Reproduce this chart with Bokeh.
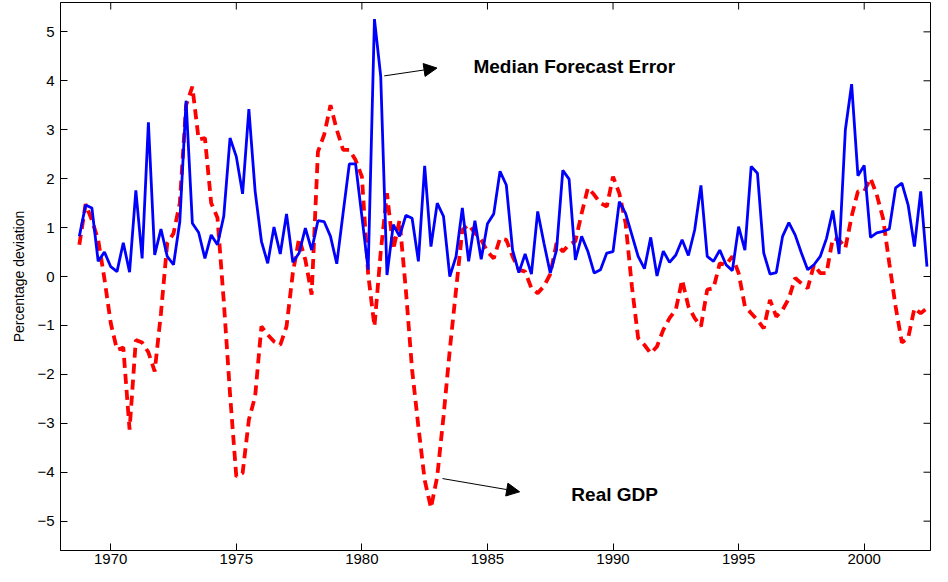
from bokeh.plotting import figure
from bokeh.models import FixedTicker, Range1d, Label, Arrow, NormalHead
from bokeh.embed import file_html
from bokeh.resources import INLINE

# Quarterly observations, 1968Q4 .. 2002Q3
first_quarter = 1968.75
quarter = 0.25

forecast_error = [
    0.82, 1.46, 1.40, 0.31, 0.50, 0.20, 0.10, 0.69, 0.09, 1.76,
    0.37, 3.15, 0.44, 0.97, 0.41, 0.24, 1.12, 3.59, 1.09, 0.90,
    0.37, 0.85, 0.65, 1.23, 2.83, 2.45, 1.69, 3.42, 1.74, 0.72,
    0.27, 1.01, 0.46, 1.28, 0.29, 0.48, 0.99, 0.54, 1.14, 1.12,
    0.82, 0.26, 1.29, 2.30, 2.30, 1.23, 0.14, 5.26, 4.09, 0.03,
    1.06, 0.82, 1.25, 1.19, 0.31, 2.26, 0.61, 1.50, 1.23, 0.00,
    0.41, 1.40, 0.31, 1.14, 0.35, 1.08, 1.28, 2.15, 1.87, 0.54,
    0.08, 0.46, 0.05, 1.33, 0.68, 0.07, 0.54, 2.17, 1.99, 0.34,
    0.82, 0.51, 0.07, 0.14, 0.48, 0.51, 1.53, 1.29, 0.85, 0.41,
    0.16, 0.80, 0.01, 0.52, 0.29, 0.44, 0.75, 0.43, 0.95, 1.86,
    0.41, 0.31, 0.54, 0.24, 0.12, 1.02, 0.54, 2.25, 2.11, 0.48,
    0.05, 0.08, 0.82, 1.10, 0.85, 0.48, 0.14, 0.24, 0.41, 0.78,
    1.35, 0.46, 3.00, 3.93, 2.06, 2.27, 0.80, 0.89, 0.92, 0.97,
    1.81, 1.91, 1.46, 0.61, 1.74, 0.20,
]

real_gdp = [
    0.65, 1.48, 1.15, 0.75, -0.05, -0.95, -1.50, -1.45, -3.13, -1.30,
    -1.35, -1.55, -1.94, -0.75, 0.68, 0.88, 1.50, 3.50, 3.88, 2.80,
    2.83, 1.50, 1.20, -0.50, -2.40, -4.09, -4.02, -2.93, -2.45, -1.02,
    -1.19, -1.33, -1.40, -1.02, 0.07, 0.78, 0.34, -0.37, 2.55, 2.90,
    3.50, 3.00, 2.59, 2.59, 2.38, 2.04, 0.05, -1.02, 0.50, 1.70,
    0.55, 1.15, -0.27, -1.91, -3.07, -4.16, -4.73, -4.09, -2.86, -1.50,
    -0.27, 0.95, 1.06, 0.89, 0.75, 0.51, 0.37, 0.78, 0.75, 0.41,
    0.14, 0.10, -0.24, -0.34, -0.20, 0.05, 0.68, 0.51, 0.65, 0.72,
    1.29, 1.81, 1.67, 1.50, 1.43, 2.04, 1.70, 1.09, -0.20, -1.26,
    -1.40, -1.57, -1.43, -1.09, -0.85, -0.68, -0.07, -0.61, -0.85, -1.02,
    -0.27, -0.24, 0.27, 0.24, 0.41, 0.07, -0.61, -0.75, -0.89, -1.06,
    -0.48, -0.82, -0.68, -0.45, -0.03, -0.14, -0.24, 0.24, 0.07, 0.07,
    0.78, 0.75, 0.58, 1.23, 1.74, 1.74, 2.01, 1.67, 1.19, 0.27,
    -0.61, -1.35, -1.26, -0.65, -0.75, -0.65,
]

years = [first_quarter + quarter * i for i in range(len(forecast_error))]

x_ticks = [1970, 1975, 1980, 1985, 1990, 1995, 2000]
y_ticks = [-5, -4, -3, -2, -1, 0, 1, 2, 3, 4, 5]
y_label = "Percentage deviation"
label_forecast = "Median Forecast Error"
label_gdp = "Real GDP"

FONT = "Liberation Sans"
X0, X1 = 1968.0, 2002.64
Y0, Y1 = -5.6, 5.6
W, H = 932, 566
ML, MR, MT, MB = 60, 2, 2, 0
TICK = 7

p = figure(
    width=W, height=H,
    output_backend="svg", toolbar_location=None,
    x_range=Range1d(X0, X1), y_range=Range1d(Y0, Y1),
    min_border_left=ML, min_border_right=MR, min_border_top=MT, min_border_bottom=MB,
)
p.background_fill_color = "white"
p.border_fill_color = "white"
p.outline_line_color = "black"
p.outline_line_width = 1
p.grid.visible = False

# Data lines
p.line(years, real_gdp, line_color="#ff0000", line_width=3.8, line_dash="10 6")
p.line(years, forecast_error, line_color="#0000ff", line_width=2.8)

# Axes
for ax, ticks in ((p.xaxis[0], x_ticks), (p.yaxis[0], y_ticks)):
    ax.ticker = FixedTicker(ticks=ticks)
    ax.major_tick_in = TICK
    ax.major_tick_out = 0
    ax.minor_tick_line_color = None
    ax.axis_line_color = "black"
    ax.major_tick_line_color = "black"
    ax.major_label_text_font = FONT
    ax.major_label_text_font_size = "15px"
    ax.major_label_text_color = "black"

p.xaxis[0].major_label_standoff = 3
p.yaxis[0].major_label_standoff = 6
ya = p.yaxis[0]
ya.axis_label = y_label
ya.axis_label_text_font = FONT
ya.axis_label_text_font_size = "14px"
ya.axis_label_text_font_style = "normal"
ya.axis_label_text_color = "black"
ya.axis_label_standoff = 7

# Inward ticks on the top and right sides of the box (MATLAB style)
frame_w = W - ML - MR
frame_h = H - MT - 20
dx = (X1 - X0) / frame_w * TICK
dy = (Y1 - Y0) / frame_h * TICK
p.segment(x0=x_ticks, y0=[Y1] * len(x_ticks), x1=x_ticks, y1=[Y1 - dy] * len(x_ticks),
          line_color="black", line_width=1)
p.segment(x0=[X1] * len(y_ticks), y0=y_ticks, x1=[X1 - dx] * len(y_ticks), y1=y_ticks,
          line_color="black", line_width=1)

# Annotations
p.add_layout(Label(x=1984.44, y=4.29, text=label_forecast, text_font=FONT,
                   text_font_size="19px", text_font_style="bold",
                   text_baseline="middle", text_align="left", text_color="black"))
p.add_layout(Label(x=1988.34, y=-4.45, text=label_gdp, text_font=FONT,
                   text_font_size="19px", text_font_style="bold",
                   text_baseline="middle", text_align="left", text_color="black"))

p.add_layout(Arrow(x_start=1980.89, y_start=4.10, x_end=1982.99, y_end=4.26,
                   line_color="black", line_width=1,
                   end=NormalHead(size=13, fill_color="black", line_color="black", line_width=1)))
p.add_layout(Arrow(x_start=1983.21, y_start=-4.13, x_end=1986.28, y_end=-4.40,
                   line_color="black", line_width=1,
                   end=NormalHead(size=13, fill_color="black", line_color="black", line_width=1)))

open("out.html", "w").write(file_html(p, INLINE))
